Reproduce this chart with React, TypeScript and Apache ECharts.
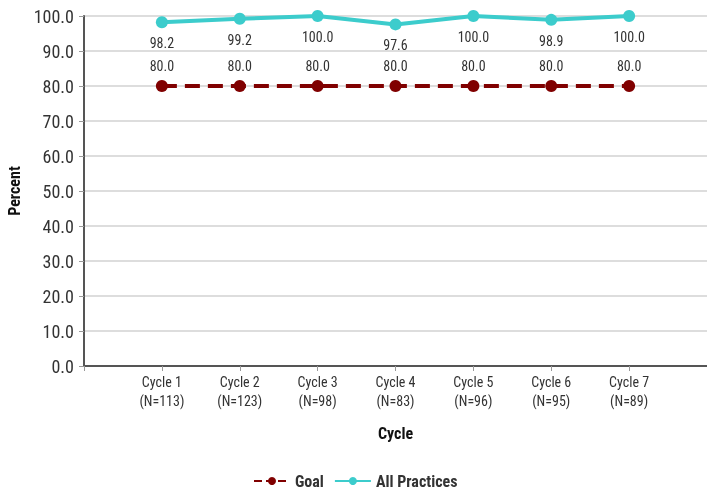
import React, { useEffect, useRef } from "react";
import * as echarts from "echarts";

const categories = ["", "Cycle 1\n(N=113)", "Cycle 2\n(N=123)", "Cycle 3\n(N=98)", "Cycle 4\n(N=83)", "Cycle 5\n(N=96)", "Cycle 6\n(N=95)", "Cycle 7\n(N=89)", ""];
const goalValues = [null, 80.0, 80.0, 80.0, 80.0, 80.0, 80.0, 80.0, null];
const allPracticesValues = [null, 98.2, 99.2, 100.0, 97.6, 100.0, 98.9, 100.0, null];

const FONT = "'Liberation Sans Narrow', 'Roboto Condensed', 'Liberation Sans', Arial, sans-serif";

export default function App() {
  const ref = useRef<HTMLDivElement>(null);
  useEffect(() => {
    if (!ref.current) return;
    const chart = echarts.init(ref.current, null, { renderer: "svg" });
    chart.setOption({
      animation: false,
      textStyle: { fontFamily: FONT },
      grid: { left: 84, right: 0, top: 16, bottom: 126, containLabel: false, outerBoundsMode: "none" },
      legend: {
        top: 468,
        left: 248,
        itemGap: 10,
        itemWidth: 36,
        itemHeight: 10,
        textStyle: { fontFamily: FONT, fontSize: 16, fontWeight: "bold", color: "#333" },
        data: [
          { name: "Goal", lineStyle: { type: [8, 4] } },
          { name: "All Practices" },
        ],
      },
      xAxis: {
        type: "category",
        boundaryGap: false,
        data: categories,
        name: "Cycle",
        nameLocation: "middle",
        nameGap: 59,
        nameTextStyle: { fontFamily: FONT, fontSize: 16, fontWeight: "bold", color: "#111" },
        axisLine: { lineStyle: { color: "#555", width: 2 } },
        axisTick: { show: true, length: 5, lineStyle: { color: "#999" } },
        axisLabel: { interval: 0, fontSize: 14, color: "#333", lineHeight: 19, margin: 6, fontFamily: FONT },
      },
      yAxis: {
        type: "value",
        min: 0,
        max: 100,
        interval: 10,
        name: "Percent",
        nameLocation: "middle",
        nameGap: 62,
        nameTextStyle: { fontFamily: FONT, fontSize: 16, fontWeight: "bold", color: "#111" },
        axisLine: { show: true, lineStyle: { color: "#555", width: 2 } },
        axisTick: { show: true, length: 5, lineStyle: { color: "#999" } },
        axisLabel: { fontSize: 18, color: "#333", margin: 10, formatter: (v: number) => v.toFixed(1), fontFamily: FONT },
        splitLine: { show: true, lineStyle: { color: "#ddd", width: 2 } },
      },
      series: [
        {
          name: "Goal",
          type: "line",
          data: goalValues,
          color: "#800000",
          symbol: "circle",
          symbolSize: 12,
          lineStyle: { color: "#800000", width: 4, type: [15, 8] },
          itemStyle: { color: "#800000" },
          label: { show: true, position: "top", distance: 7, formatter: (p: any) => Number(p.value).toFixed(1), fontSize: 14, color: "#333", fontFamily: FONT },
        },
        {
          name: "All Practices",
          type: "line",
          data: allPracticesValues,
          color: "#3ccccc",
          symbol: "circle",
          symbolSize: 12,
          lineStyle: { color: "#3ccccc", width: 4 },
          itemStyle: { color: "#3ccccc" },
          label: { show: true, position: "bottom", distance: 8, formatter: (p: any) => Number(p.value).toFixed(1), fontSize: 14, color: "#333", fontFamily: FONT },
        },
      ],
    });
    return () => chart.dispose();
  }, []);
  return <div ref={ref} style={{ position: "fixed", left: 0, top: 0, width: 707, height: 492 }} />;
}
